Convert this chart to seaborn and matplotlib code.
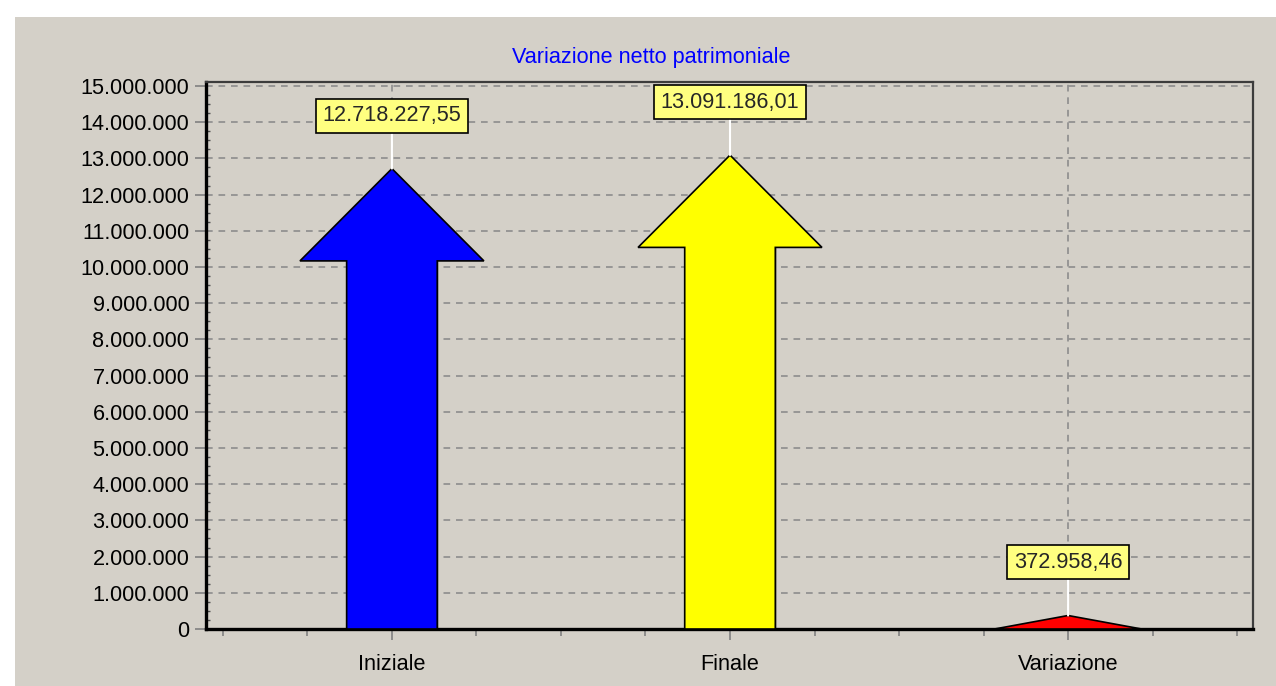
import matplotlib
matplotlib.use('Agg')
import matplotlib.pyplot as plt
import matplotlib.patches as mpatches
from matplotlib.ticker import FuncFormatter, MultipleLocator
import seaborn as sns

# Data
categories = ['Iniziale', 'Finale', 'Variazione']
values = [12718227.55, 13091186.01, 372958.46]
value_labels = ['12.718.227,55', '13.091.186,01', '372.958,46']
colors = ['#0000FF', '#FFFF00', '#FF0000']

# Style
BG = '#D4D0C8'
HEAD_LEN = 2.55e6   # arrow head height (data units)
HEAD_W = 0.544      # arrow head width (category units)
SHAFT_W = 0.268     # shaft width

sns.set_style('ticks')
plt.rcParams['font.family'] = ['Liberation Sans', 'DejaVu Sans']
plt.rcParams['font.size'] = 15.6

fig = plt.figure(figsize=(12.76, 6.86), dpi=100)
fig.patch.set_facecolor('white')
fig.patches.append(mpatches.Rectangle((15 / 1276, 0), 1, 669 / 686,
                                      transform=fig.transFigure,
                                      facecolor=BG, edgecolor='none', zorder=-5))

ax = fig.add_axes([206 / 1276, 57 / 686, 1047 / 1276, 547 / 686])
ax.set_facecolor(BG)

# shafts through seaborn, heads on top
shaft = [max(v - HEAD_LEN, 0) for v in values]
sns.barplot(x=categories, y=shaft, hue=categories, palette=colors,
            width=SHAFT_W, edgecolor='black', linewidth=1,
            legend=False, ax=ax, zorder=2)

for p, v, c, lbl in zip(ax.patches, values, colors, value_labels):
    x0 = p.get_x()
    x1 = x0 + p.get_width()
    cx = (x0 + x1) / 2
    if v > HEAD_LEN:
        base = v - HEAD_LEN
        hw = HEAD_W / 2
        pts = [(x0, 0), (x1, 0), (x1, base), (cx + hw, base), (cx, v),
               (cx - hw, base), (x0, base)]
    else:
        hw = HEAD_W * 0.4
        pts = [(cx - hw, 0), (cx + hw, 0), (cx, v)]
    xs, ys = zip(*pts)
    ax.fill(xs, ys, facecolor=c, edgecolor='black', linewidth=1.2, zorder=3)
    ax.annotate(lbl, xy=(cx, v), xytext=(0, 53), textcoords='offset pixels',
                ha='center', va='center', fontsize=15.6, zorder=5,
                bbox=dict(boxstyle='square,pad=0.3', fc='#FFFF80', ec='black', lw=1.2),
                arrowprops=dict(arrowstyle='-', color='white', lw=1.5,
                                shrinkA=0, shrinkB=0))

# Axes
ax.set_xlim(-0.55, 2.547)
ax.set_ylim(0, 15.11e6)
ax.set_xlabel('')
ax.set_ylabel('')
ax.yaxis.set_major_locator(MultipleLocator(1e6))
ax.yaxis.set_minor_locator(MultipleLocator(2.5e5))
ax.xaxis.set_minor_locator(MultipleLocator(0.25))
ax.yaxis.set_major_formatter(FuncFormatter(lambda v, _: f'{int(round(v)):,}'.replace(',', '.')))
ax.tick_params(axis='both', which='major', length=8, width=1.2, color='#808080',
               labelcolor='black', pad=4)
ax.tick_params(axis='x', which='major', pad=10)
ax.tick_params(axis='x', which='minor', length=5, width=1.2, color='#808080')
ax.tick_params(axis='y', which='minor', direction='in', length=3, width=1, color='#505050')

ax.grid(True, which='major', color='#8c8c8c', linestyle=(0, (4, 3.5)), linewidth=1.2)
ax.set_axisbelow(True)

for s in ['left', 'bottom']:
    ax.spines[s].set_color('black')
    ax.spines[s].set_linewidth(2.4)
for s in ['top', 'right']:
    ax.spines[s].set_color('#3c3c3c')
    ax.spines[s].set_linewidth(1.6)

fig.text(651 / 1276, 1 - 57 / 686, 'Variazione netto patrimoniale',
         color='#0000FF', ha='center', va='center', fontsize=15.6)

fig.savefig('out.png', dpi=100)
